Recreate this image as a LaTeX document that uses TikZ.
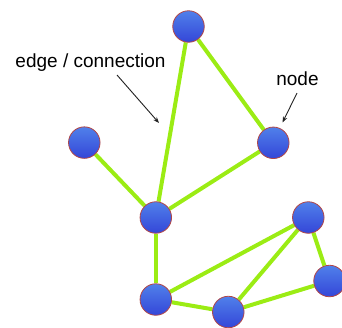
\documentclass[tikz,border=0pt]{standalone}
\usepackage{fontspec}
\setmainfont{Liberation Sans}
\usetikzlibrary{arrows.meta,backgrounds}
\definecolor{edgegreen}{RGB}{155,236,20}
\definecolor{nodetop}{RGB}{80,128,234}
\definecolor{nodebot}{RGB}{52,70,216}
\definecolor{noderim}{RGB}{178,70,70}
\definecolor{arrowgray}{RGB}{35,35,35}
\begin{document}
\begin{tikzpicture}[x=1pt,y=-1pt,
  vertex/.style={circle,minimum size=31.5pt,inner sep=0pt,draw=noderim,line width=0.8pt,
    top color=nodetop,bottom color=nodebot},
  link/.style={draw=edgegreen,line width=4pt},
  label/.style={font=\fontsize{19}{22}\selectfont,anchor=base,text=black,inner sep=0pt},
  pointer/.style={draw=arrowgray,line width=0.9pt,-{Stealth[length=6pt,width=4.5pt]}}]
\useasboundingbox (0,0) rectangle (342,327);
\node[vertex] (top) at (188.5,26.5) {};
\node[vertex] (left) at (84.3,142.6) {};
\node[vertex] (right) at (273.3,142.8) {};
\node[vertex] (center) at (155.8,217.5) {};
\node[vertex] (rup) at (308.3,217.5) {};
\node[vertex] (far) at (329.5,281) {};
\node[vertex] (bl) at (155.8,299.5) {};
\node[vertex] (bm) at (228.3,312) {};
\begin{scope}[on background layer]
\draw[link] (top) -- (center);
\draw[link] (top) -- (right);
\draw[link] (left) -- (center);
\draw[link] (center) -- (right);
\draw[link] (center) -- (bl);
\draw[link] (bl) -- (rup);
\draw[link] (bl) -- (bm);
\draw[link] (bm) -- (rup);
\draw[link] (bm) -- (far);
\draw[link] (rup) -- (far);
\end{scope}
\node[label] (edgelabel) at (90.5,67) {edge / connection};
\node[label] (nodelabel) at (297.5,85) {node};
\coordinate (ea) at (117,75);
\coordinate (eb) at (159,123);
\coordinate (na) at (297,93);
\coordinate (nb) at (282.5,122.5);
\draw[pointer] (ea) -- (eb);
\draw[pointer] (na) -- (nb);
\end{tikzpicture}
\end{document}
